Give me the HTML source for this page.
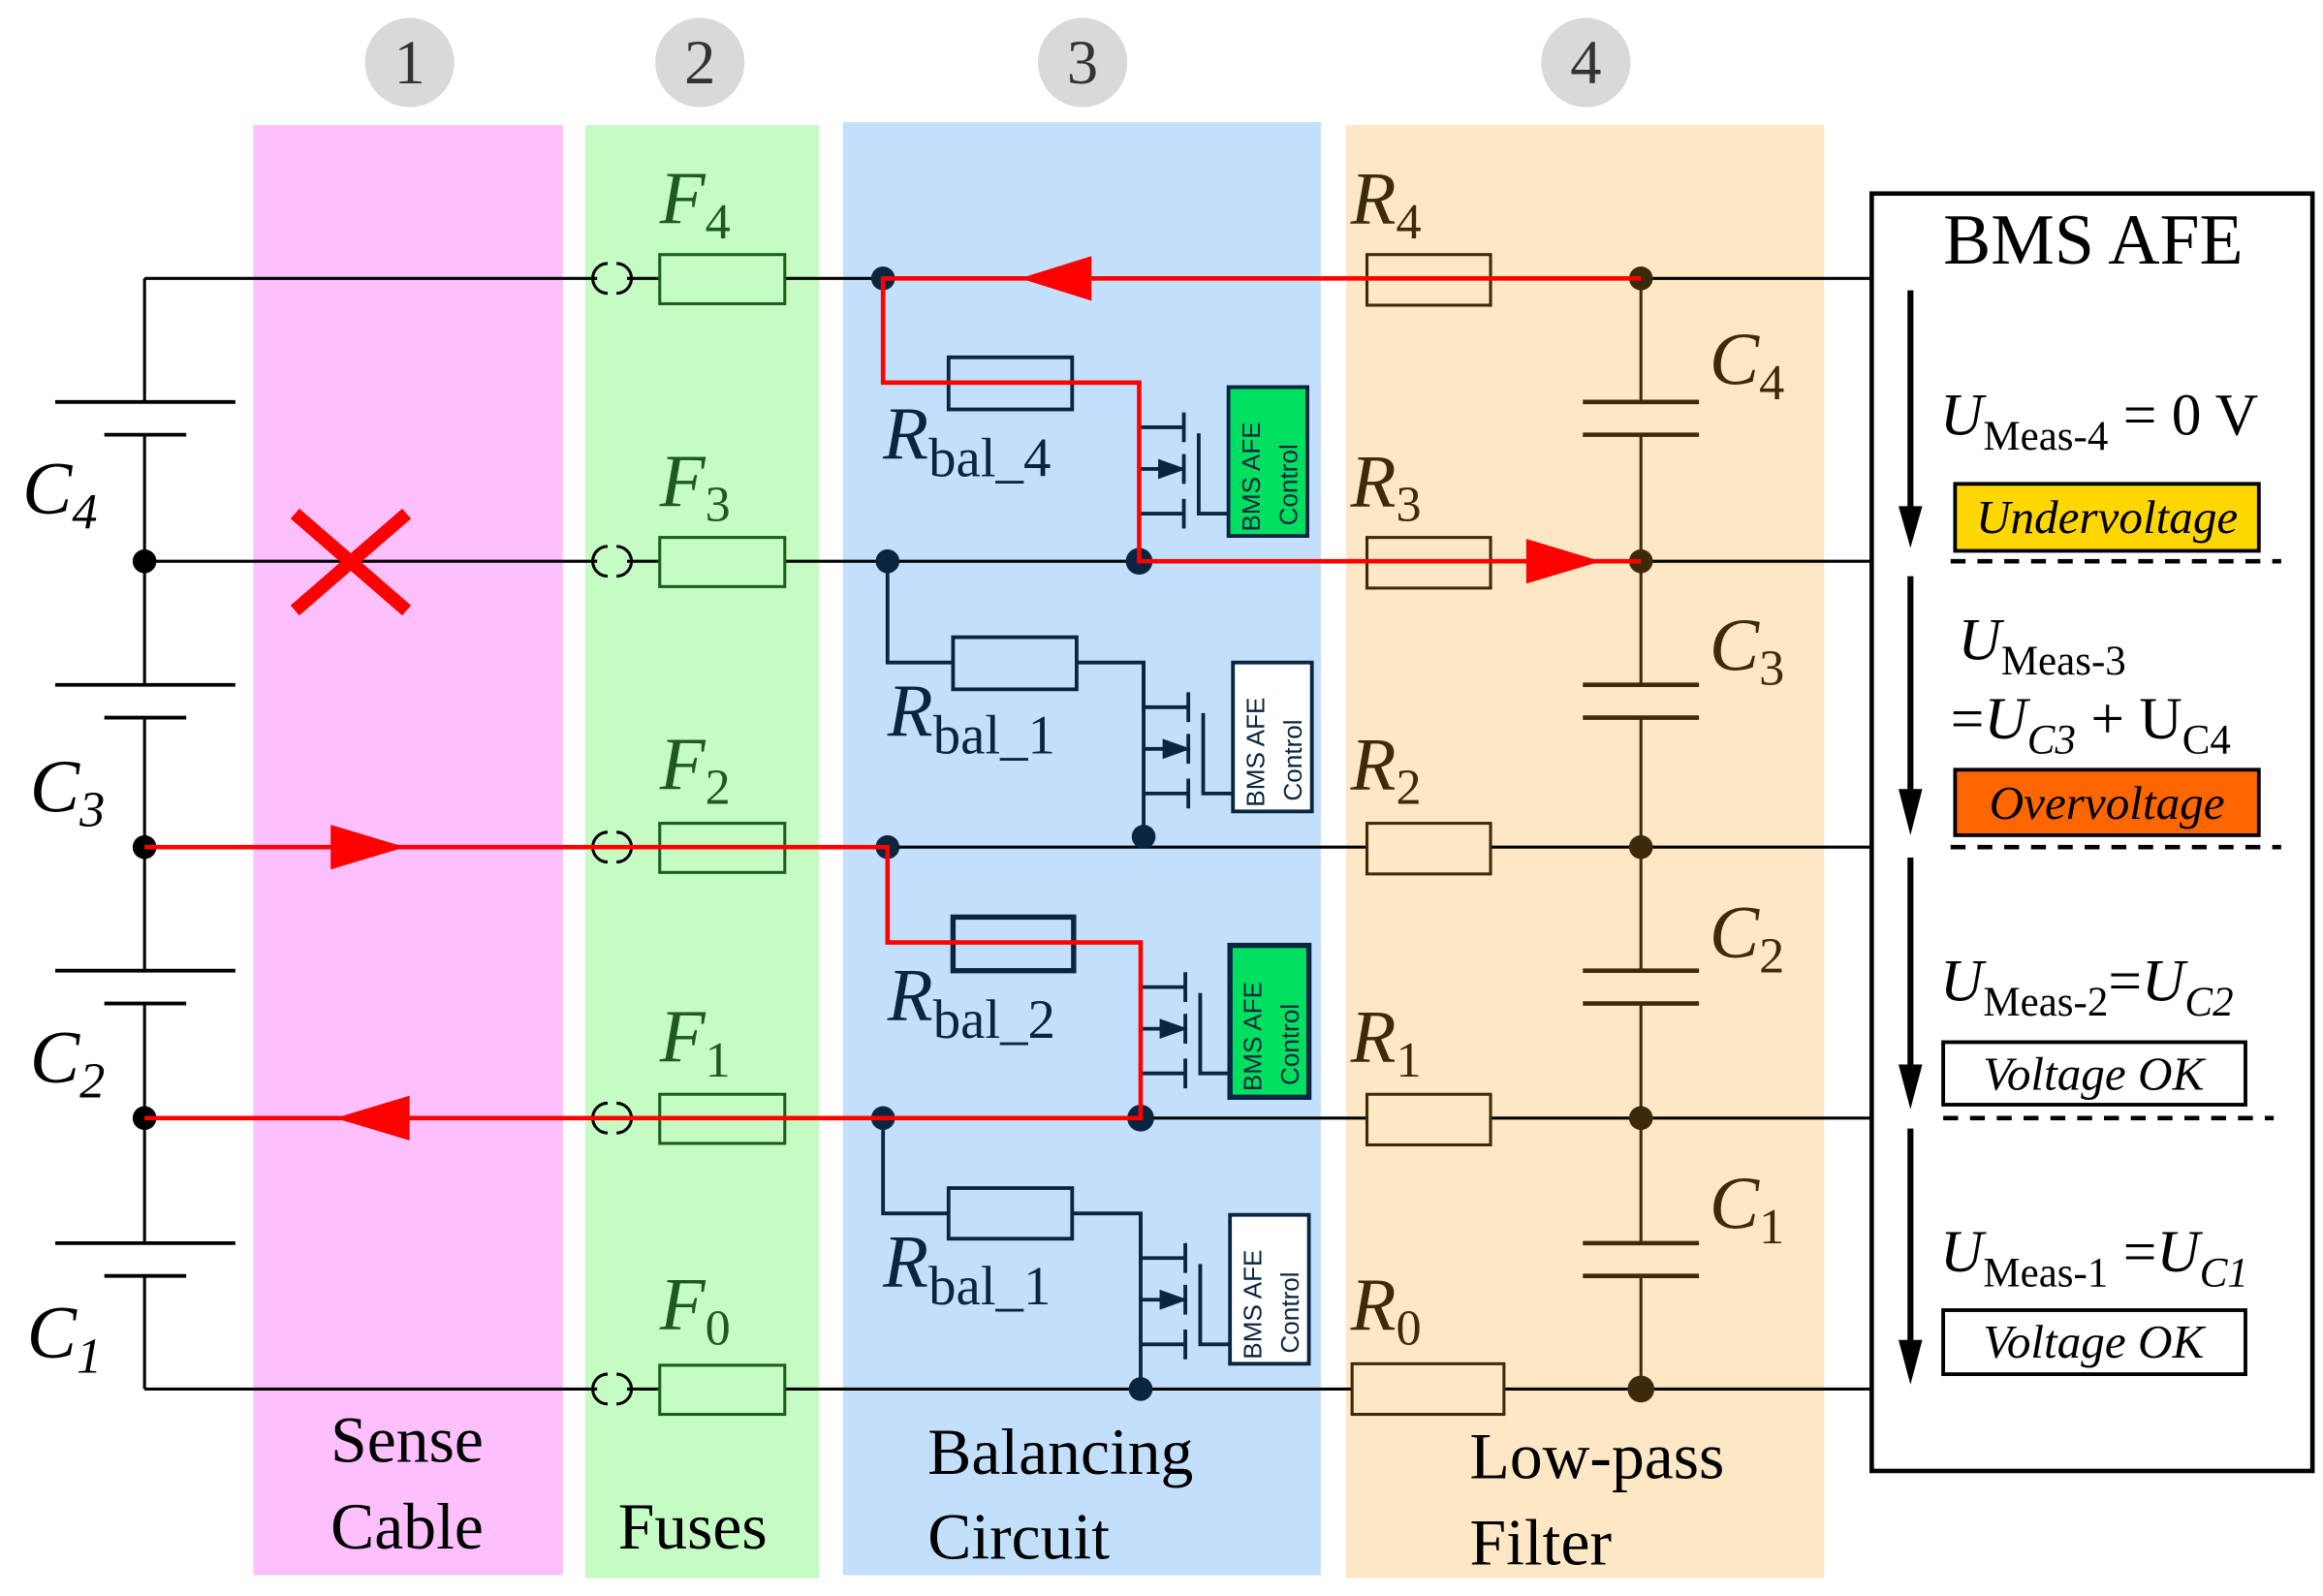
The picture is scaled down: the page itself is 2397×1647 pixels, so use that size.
<!DOCTYPE html>
<html><head><meta charset="utf-8"><style>html,body{margin:0;padding:0;background:#fff}svg{display:block}</style></head>
<body>
<svg width="2397" height="1647" viewBox="0 0 1560 1072" xmlns="http://www.w3.org/2000/svg" font-family="Liberation Serif, serif">
<defs>
<g id="tr" stroke="#0a2540" stroke-width="2.5" fill="none">
  <path d="M0,0 V30 H30 M30,20 V40 M0,30 V120 M0,88 H30 M30,78 V98 M0,58 H30 M30,48 V68 M40,34 V88 H60"/>
  <path d="M14,53 L28,58 L14,63 Z" fill="#0a2540"/>
</g>
<g id="sock" stroke="#000" stroke-width="2" fill="none">
  <path d="M-3,-10 A10,10 0 0 0 -3,10 M3,-10 A10,10 0 0 1 3,10"/>
</g>
</defs>
<rect x="170" y="84" width="208" height="974" fill="#fdc0fc"/>
<rect x="393" y="84" width="157" height="976" fill="#c4fcc4"/>
<rect x="566" y="82" width="321" height="976" fill="#c2e0fc"/>
<rect x="904" y="84" width="321" height="976" fill="#fde7c4"/>
<g fill="#d9d9d9"><circle cx="275" cy="42" r="30"/><circle cx="470" cy="42" r="30"/><circle cx="727" cy="42" r="30"/><circle cx="1065" cy="42" r="30"/></g>
<g font-size="42" fill="#333" text-anchor="middle"><text x="275" y="56">1</text><text x="470" y="56">2</text><text x="727" y="56">3</text><text x="1065" y="56">4</text></g>
<rect x="1257" y="130" width="296" height="858" fill="#fff" stroke="#000" stroke-width="3"/>
<g stroke="#000" stroke-width="2" fill="none">
<path d="M97,187 H401 M421,187 H1257 M97,377 H401 M421,377 H1257 M97,569 H401 M421,569 H1257 M97,751 H401 M421,751 H1257 M97,933 H401 M421,933 H1257"/>
<path d="M97,187 V270 M97,292 V460 M97,482 V652 M97,674 V835 M97,857 V933"/>
</g>
<use href="#sock" x="411" y="187"/><use href="#sock" x="411" y="377"/><use href="#sock" x="411" y="569"/><use href="#sock" x="411" y="751"/><use href="#sock" x="411" y="933"/>
<g stroke="#000" stroke-width="2.5">
<path d="M37,270 H158 M70,292 H125 M37,460 H158 M70,482 H125 M37,652 H158 M70,674 H125 M37,835 H158 M70,857 H125"/>
</g>
<g fill="#000"><circle cx="97" cy="377" r="8"/><circle cx="97" cy="569" r="8"/><circle cx="97" cy="751" r="8"/></g>
<g font-size="50" font-style="italic" fill="#000">
<text x="15" y="345">C<tspan font-size="34" dy="10">4</tspan></text>
<text x="20" y="545">C<tspan font-size="34" dy="10">3</tspan></text>
<text x="20" y="727">C<tspan font-size="34" dy="10">2</tspan></text>
<text x="18" y="912">C<tspan font-size="34" dy="10">1</tspan></text>
</g>
<g stroke="#1a5e1a" stroke-width="2" fill="#c4fcc4">
<rect x="443" y="171" width="84" height="33"/><rect x="443" y="361" width="84" height="33"/><rect x="443" y="553" width="84" height="33"/><rect x="443" y="735" width="84" height="33"/><rect x="443" y="917" width="84" height="33"/>
</g>
<g font-size="50" font-style="italic" fill="#1e5a1e">
<text x="443" y="150">F<tspan font-style="normal" font-size="34" dy="10">4</tspan></text>
<text x="443" y="340">F<tspan font-style="normal" font-size="34" dy="10">3</tspan></text>
<text x="443" y="530">F<tspan font-style="normal" font-size="34" dy="10">2</tspan></text>
<text x="443" y="713">F<tspan font-style="normal" font-size="34" dy="10">1</tspan></text>
<text x="443" y="893">F<tspan font-style="normal" font-size="34" dy="10">0</tspan></text>
</g>
<g stroke="#0a2540" stroke-width="2.5" fill="none">
<path d="M593,187 V257 H637 M720,257 H765 V290"/>
<path d="M596,377 V445 H640 M723,445 H768 V478"/>
<path d="M596,569 V633 H640 M721,633 H766 V666"/>
<path d="M593,751 V815 H637 M720,815 H766 V848"/>
<rect x="637" y="240" width="83" height="35"/>
<rect x="640" y="428" width="83" height="35"/>
<rect x="640" y="616" width="81" height="36" stroke-width="3.5"/>
<rect x="637" y="798" width="83" height="34"/>
</g>
<use href="#tr" x="765" y="257"/>
<use href="#tr" x="768" y="445"/>
<use href="#tr" x="766" y="633"/>
<use href="#tr" x="766" y="815"/>
<g stroke="#0a2540" stroke-width="2.5">
<rect x="825" y="260" width="53" height="100" fill="#00e060"/>
<rect x="828" y="445" width="53" height="100" fill="#fff"/>
<rect x="826" y="635" width="53" height="102" fill="#00e060" stroke-width="3.5"/>
<rect x="826" y="816" width="53" height="100" fill="#fff"/>
</g>
<g font-family="Liberation Sans, sans-serif" font-size="17" fill="#0a2540">
<text transform="translate(846,357) rotate(-90)">BMS AFE</text><text transform="translate(871,353) rotate(-90)">Control</text>
<text transform="translate(849,542) rotate(-90)">BMS AFE</text><text transform="translate(874,538) rotate(-90)">Control</text>
<text transform="translate(847,733) rotate(-90)">BMS AFE</text><text transform="translate(872,729) rotate(-90)">Control</text>
<text transform="translate(847,913) rotate(-90)">BMS AFE</text><text transform="translate(872,909) rotate(-90)">Control</text>
</g>
<g fill="#0a2540"><circle cx="593" cy="187" r="8"/><circle cx="596" cy="377" r="8"/><circle cx="596" cy="569" r="8"/><circle cx="593" cy="751" r="8"/>
<circle cx="765" cy="377" r="9"/><circle cx="768" cy="562" r="8"/><circle cx="766" cy="751" r="9"/><circle cx="766" cy="933" r="8"/></g>
<g font-size="50" font-style="italic" fill="#0a2540">
<text x="593" y="308">R<tspan font-style="normal" font-size="37" dy="12">bal_4</tspan></text>
<text x="596" y="494">R<tspan font-style="normal" font-size="37" dy="12">bal_1</tspan></text>
<text x="596" y="685">R<tspan font-style="normal" font-size="37" dy="12">bal_2</tspan></text>
<text x="593" y="864">R<tspan font-style="normal" font-size="37" dy="12">bal_1</tspan></text>
</g>
<g stroke="#3d2a0a" stroke-width="2" fill="#fde7c4">
<rect x="918" y="171" width="83" height="34"/><rect x="918" y="361" width="83" height="34"/><rect x="918" y="553" width="83" height="34"/><rect x="918" y="735" width="83" height="34"/><rect x="908" y="916" width="102" height="34"/>
</g>
<g stroke="#3d2a0a" stroke-width="2" fill="none">
<path d="M1102,187 V270 M1102,292 V460 M1102,482 V652 M1102,674 V835 M1102,857 V933"/>
</g>
<g stroke="#3d2a0a" stroke-width="3"><path d="M1063,270 H1141 M1063,292 H1141 M1063,460 H1141 M1063,482 H1141 M1063,652 H1141 M1063,674 H1141 M1063,835 H1141 M1063,857 H1141"/></g>
<g fill="#3d2a0a"><circle cx="1102" cy="187" r="8"/><circle cx="1102" cy="377" r="8"/><circle cx="1102" cy="569" r="8"/><circle cx="1102" cy="751" r="8"/><circle cx="1102" cy="933" r="9"/></g>
<g font-size="50" font-style="italic" fill="#3d2a0a">
<text x="907" y="150">R<tspan font-style="normal" font-size="34" dy="10">4</tspan></text>
<text x="907" y="340">R<tspan font-style="normal" font-size="34" dy="10">3</tspan></text>
<text x="907" y="530">R<tspan font-style="normal" font-size="34" dy="10">2</tspan></text>
<text x="907" y="713">R<tspan font-style="normal" font-size="34" dy="10">1</tspan></text>
<text x="907" y="893">R<tspan font-style="normal" font-size="34" dy="10">0</tspan></text>
<text x="1148" y="258">C<tspan font-style="normal" font-size="34" dy="10">4</tspan></text>
<text x="1148" y="450">C<tspan font-style="normal" font-size="34" dy="10">3</tspan></text>
<text x="1148" y="643">C<tspan font-style="normal" font-size="34" dy="10">2</tspan></text>
<text x="1148" y="825">C<tspan font-style="normal" font-size="34" dy="10">1</tspan></text>
</g>
<g stroke="#ff0000" stroke-width="3" fill="none">
<path d="M1102,187 H593 V257 H765 V377 H1102"/>
<path d="M97,569 H596 V633 H766 V751 H97"/>
</g>
<g fill="#ff0000">
<path d="M685,187 L733,172 L733,202 Z"/>
<path d="M1075,377 L1025,362 L1025,392 Z"/>
<path d="M272,569 L222,554 L222,584 Z"/>
<path d="M225,751 L275,736 L275,766 Z"/>
</g>
<g stroke="#ff0000" stroke-width="9"><path d="M198,345 L273,410 M273,345 L198,410"/></g>
<text x="1305" y="177" font-size="48">BMS AFE</text>
<g stroke="#000" stroke-width="4"><path d="M1283,195 V345 M1283,387 V535 M1283,576 V720 M1283,758 V905"/></g>
<g fill="#000"><path d="M1275,340 H1291 L1283,368 Z M1275,530 H1291 L1283,561 Z M1275,715 H1291 L1283,745 Z M1275,900 H1291 L1283,930 Z"/></g>
<g stroke="#000" stroke-width="3" stroke-dasharray="10,8"><path d="M1310,377 H1532 M1310,569 H1532 M1305,751 H1527"/></g>
<g font-size="40" fill="#000">
<text x="1303" y="292"><tspan font-style="italic">U</tspan><tspan font-size="28" dy="10">Meas-4</tspan><tspan dy="-10"> = 0 V</tspan></text>
<text x="1315" y="443"><tspan font-style="italic">U</tspan><tspan font-size="28" dy="10">Meas-3</tspan></text>
<text x="1310" y="496">=<tspan font-style="italic">U</tspan><tspan font-style="italic" font-size="28" dy="10">C3</tspan><tspan dy="-10"> + U</tspan><tspan font-size="28" dy="10">C4</tspan></text>
<text x="1303" y="672"><tspan font-style="italic">U</tspan><tspan font-size="28" dy="10">Meas-2</tspan><tspan dy="-10">=</tspan><tspan font-style="italic">U</tspan><tspan font-style="italic" font-size="28" dy="10">C2</tspan></text>
<text x="1303" y="854"><tspan font-style="italic">U</tspan><tspan font-size="28" dy="10">Meas-1</tspan><tspan dy="-10"> =</tspan><tspan font-style="italic">U</tspan><tspan font-style="italic" font-size="28" dy="10">C1</tspan></text>
</g>
<g stroke="#000" stroke-width="2.5">
<rect x="1313" y="325" width="204" height="45" fill="#ffd700"/>
<rect x="1313" y="517" width="204" height="44" fill="#ff6600"/>
<rect x="1305" y="700" width="203" height="42" fill="#fff"/>
<rect x="1305" y="880" width="203" height="43" fill="#fff"/>
</g>
<g font-size="32" font-style="italic" fill="#000" text-anchor="middle">
<text x="1415" y="358">Undervoltage</text>
<text x="1415" y="550">Overvoltage</text>
<text x="1406" y="732">Voltage OK</text>
<text x="1406" y="912">Voltage OK</text>
</g>
<g font-size="44" fill="#000">
<text x="222" y="982">Sense</text><text x="222" y="1040">Cable</text>
<text x="415" y="1040">Fuses</text>
<text x="623" y="990">Balancing</text><text x="623" y="1047">Circuit</text>
<text x="987" y="993">Low-pass</text><text x="987" y="1051">Filter</text>
</g>
</svg>
</body></html>
